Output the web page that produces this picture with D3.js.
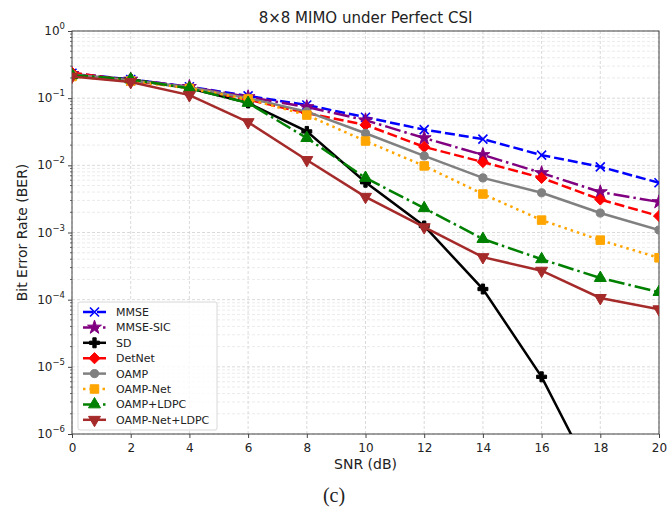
<!DOCTYPE html>
<html>
<head>
<meta charset="utf-8">
<script src="https://cdn.jsdelivr.net/npm/d3@7"></script>
<style>
  body { margin: 0; background: #fff; }
  text { font-family: "DejaVu Sans", sans-serif; fill: #222; }
  .grid line { stroke-dasharray: 3,2; }
</style>
</head>
<body>
<svg id="chart" width="667" height="509"></svg>
<script>
const snr = [0, 2, 4, 6, 8, 10, 12, 14, 16, 18, 20];
const mmse = [0.235, 0.19, 0.148, 0.108, 0.079, 0.052, 0.034, 0.0246, 0.0142, 0.0095, 0.0055];
const mmseSic = [0.23, 0.19, 0.148, 0.104, 0.074, 0.047, 0.0255, 0.0143, 0.0077, 0.0040, 0.00285];
const sd = [0.22, 0.19, 0.14, 0.085, 0.032, 0.0056, 0.00125, 1.44e-4, 7.1e-6, 1.4e-7];
const detnet = [0.24, 0.18, 0.145, 0.095, 0.06, 0.040, 0.0188, 0.0112, 0.0065, 0.0031, 0.00176];
const oamp = [0.225, 0.185, 0.145, 0.1, 0.063, 0.030, 0.0138, 0.0065, 0.0039, 0.00195, 0.00109];
const oampNet = [0.21, 0.18, 0.14, 0.097, 0.056, 0.023, 0.0098, 0.00374, 0.00153, 0.00077, 0.00042];
const oampLdpc = [0.22, 0.19, 0.14, 0.085, 0.0255, 0.0065, 0.0023, 8.0e-4, 4.0e-4, 2.1e-4, 1.3e-4];
const oampNetLdpc = [0.21, 0.174, 0.111, 0.044, 0.012, 0.0034, 0.0012, 4.3e-4, 2.7e-4, 1.06e-4, 7.2e-5];

const xTicks = [0, 2, 4, 6, 8, 10, 12, 14, 16, 18, 20];
const yExps = [0, -1, -2, -3, -4, -5, -6];

const series = [
  {name: "MMSE", values: mmse, color: "#0000ff", dash: "10,4", marker: "x"},
  {name: "MMSE-SIC", values: mmseSic, color: "#800080", dash: "16,4,2.5,4", marker: "star"},
  {name: "SD", values: sd, color: "#000000", dash: null, marker: "plus"},
  {name: "DetNet", values: detnet, color: "#ff0000", dash: "10,4", marker: "diamond"},
  {name: "OAMP", values: oamp, color: "#808080", dash: null, marker: "circle"},
  {name: "OAMP-Net", values: oampNet, color: "#ffa500", dash: "2.5,4", marker: "square"},
  {name: "OAMP+LDPC", values: oampLdpc, color: "#008000", dash: "16,4,2.5,4", marker: "up"},
  {name: "OAMP-Net+LDPC", values: oampNetLdpc, color: "#a52a2a", dash: null, marker: "down"}
];

const svg = d3.select("#chart"),
  m = {left: 72, top: 31, right: 8, bottom: 75},
  w = 667 - m.left - m.right,
  h = 509 - m.top - m.bottom;

const x = d3.scaleLinear().domain([0, 20]).range([0, w]);
const y = d3.scaleLog().domain([1e-6, 1]).range([h, 0]);

const g = svg.append("g").attr("transform", `translate(${m.left},${m.top})`);

g.append("clipPath").attr("id", "clip")
  .append("rect").attr("width", w).attr("height", h);

// grid
const minor = [];
for (let e = -6; e < 0; e++) for (let k = 2; k <= 9; k++) minor.push(k * Math.pow(10, e));

const grid = g.append("g").attr("class", "grid");
grid.selectAll(".minor").data(minor).enter().append("line")
  .attr("x1", 0).attr("x2", w)
  .attr("y1", d => y(d)).attr("y2", d => y(d))
  .attr("stroke", "#e6e6e6").attr("stroke-width", 0.8);
grid.selectAll(".majy").data(yExps).enter().append("line")
  .attr("x1", 0).attr("x2", w)
  .attr("y1", d => y(Math.pow(10, d))).attr("y2", d => y(Math.pow(10, d)))
  .attr("stroke", "#d0d0d0").attr("stroke-width", 0.8);
grid.selectAll(".majx").data(xTicks).enter().append("line")
  .attr("y1", 0).attr("y2", h)
  .attr("x1", d => x(d)).attr("x2", d => x(d))
  .attr("stroke", "#d0d0d0").attr("stroke-width", 0.8);

// axes
const xAxis = g.append("g").attr("transform", `translate(0,${h})`)
  .call(d3.axisBottom(x).tickValues(xTicks).tickSize(4).tickFormat(d3.format("d")));
xAxis.select(".domain").remove();
xAxis.selectAll("text").attr("font-size", 12).attr("dy", "0.95em").style("fill", "#222");
xAxis.selectAll("line").attr("stroke", "#444");

const yAxis = g.append("g")
  .call(d3.axisLeft(y).tickValues(yExps.map(e => Math.pow(10, e))).tickSize(4).tickFormat(""));
yAxis.select(".domain").remove();
yAxis.selectAll("line").attr("stroke", "#444");
g.append("g").selectAll("line").data(minor).enter().append("line")
  .attr("x1", -2).attr("x2", 0)
  .attr("y1", d => y(d)).attr("y2", d => y(d))
  .attr("stroke", "#444").attr("stroke-width", 0.8);

const yl = g.append("g").selectAll("text").data(yExps).enter().append("text")
  .attr("x", -7).attr("y", d => y(Math.pow(10, d)) + 4)
  .attr("text-anchor", "end").attr("font-size", 12);
yl.append("tspan").text("10");
yl.append("tspan").attr("font-size", 8.5).attr("dy", -6)
  .text(d => d === 0 ? "0" : "\u2212" + (-d));

// frame
g.append("rect").attr("width", w).attr("height", h)
  .attr("fill", "none").attr("stroke", "#444").attr("stroke-width", 1);

// markers
function markerPath(type) {
  switch (type) {
    case "circle": return d3.symbol(d3.symbolCircle, 52)();
    case "square": return d3.symbol(d3.symbolSquare, 72)();
    case "diamond": return "M0,-5.6L5.6,0L0,5.6L-5.6,0Z";
    case "star": return d3.symbol(d3.symbolStar, 60)();
    case "plus": return d3.symbol(d3.symbolCross, 55)();
    case "up": return d3.symbol(d3.symbolTriangle, 62)();
    case "down": return d3.symbol(d3.symbolTriangle, 62)();
    case "x": return "M-4.5,-4.5L4.5,4.5M-4.5,4.5L4.5,-4.5";
  }
}
function drawMarker(sel, s) {
  sel.append("path")
    .attr("d", markerPath(s.marker))
    .attr("transform", s.marker === "down" ? "rotate(180)" : null)
    .attr("fill", s.marker === "x" ? "none" : s.color)
    .attr("stroke", s.color)
    .attr("stroke-width", s.marker === "x" ? 1.6 : 1);
}

const line = d3.line()
  .x((d, i) => x(snr[i]))
  .y(d => y(d));

const plot = g.append("g").attr("clip-path", "url(#clip)");
series.forEach(s => {
  const sg = plot.append("g");
  sg.append("path")
    .datum(s.values)
    .attr("d", line)
    .attr("fill", "none")
    .attr("stroke", s.color)
    .attr("stroke-width", 2.5)
    .attr("stroke-dasharray", s.dash);
  sg.selectAll(".pt").data(s.values).enter().append("g")
    .attr("transform", (d, i) => `translate(${x(snr[i])},${y(d)})`)
    .each(function() { drawMarker(d3.select(this), s); });
});

// legend
const lg = g.append("g").attr("transform", "translate(6,271)");
lg.append("rect").attr("width", 139).attr("height", 128).attr("rx", 2)
  .attr("fill", "#fff").attr("fill-opacity", 0.8)
  .attr("stroke", "#d8d8d8");
series.forEach((s, i) => {
  const row = lg.append("g").attr("transform", `translate(0,${10 + i * 15.4})`);
  row.append("line").attr("x1", 5).attr("x2", 28)
    .attr("stroke", s.color).attr("stroke-width", 2.5)
    .attr("stroke-dasharray", s.dash);
  const mk = row.append("g").attr("transform", "translate(16.5,0)");
  drawMarker(mk, s);
  row.append("text").attr("x", 38).attr("y", 4)
    .attr("font-size", 11).text(s.name);
});

// labels
svg.append("text").attr("x", m.left + w / 2).attr("y", 23)
  .attr("text-anchor", "middle").attr("font-size", 15)
  .text("8\u00d78 MIMO under Perfect CSI");
svg.append("text").attr("x", m.left + w / 2).attr("y", 469)
  .attr("text-anchor", "middle").attr("font-size", 14)
  .text("SNR (dB)");
svg.append("text")
  .attr("transform", `translate(27,${m.top + h / 2}) rotate(-90)`)
  .attr("text-anchor", "middle").attr("font-size", 14)
  .text("Bit Error Rate (BER)");
svg.append("text").attr("x", 334).attr("y", 502)
  .attr("text-anchor", "middle").attr("font-size", 20)
  .style("font-family", "'Liberation Serif', 'Times New Roman', serif")
  .text("(c)");
</script>
</body>
</html>
